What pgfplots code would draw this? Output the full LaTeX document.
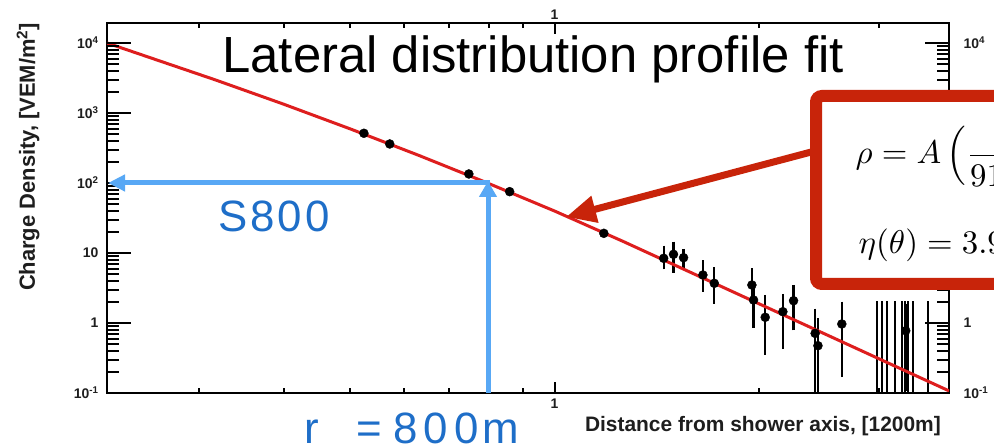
\documentclass[border=0pt]{standalone}
\usepackage{pgfplots}
\pgfplotsset{compat=1.18}
\usepackage[no-math]{fontspec}
\setmainfont{Liberation Sans}
\usetikzlibrary{arrows.meta}
\definecolor{fitred}{RGB}{222,30,30}
\definecolor{boxred}{RGB}{200,36,10}
\definecolor{arrowblue}{RGB}{88,168,245}
\definecolor{textblue}{RGB}{30,110,200}
\definecolor{labgray}{RGB}{30,30,30}
\begin{document}
\begin{tikzpicture}
\useasboundingbox (0,0) rectangle (994bp,446bp);
\clip (0,0) rectangle (994bp,446bp);
\fill[white] (0,0) rectangle (994bp,446bp);
% main axis: frame, data, x ticks
\begin{axis}[xmode=log, ymode=log, xmin=0.2193, xmax=3.81, ymin=0.1, ymax=19300,
  scale only axis, width=842bp, height=370bp, at={(107bp,53bp)}, anchor=south west,
  axis line style={line width=2.2bp, black},
  xtick={1}, xticklabels={1},
  minor xtick={0.3,0.4,0.5,0.6,0.7,0.8,0.9,2,3},
  ytick=\empty,
  tick align=inside, xtick pos=both, xticklabel pos=left,
  major tick length=11bp, minor tick length=5bp,
  tick style={line width=2bp, black},
  ticklabel style={font=\fontsize{14}{16}\selectfont\bfseries, text=labgray},
  xticklabel style={yshift=-2bp},
  xlabel={Distance from shower axis, [1200m]},
  xlabel style={at={(axis description cs:0.779,-0.105)}, anchor=base, font=\fontsize{21}{24}\selectfont\bfseries, text=labgray},
  ylabel={Charge Density, [VEM/m\textsuperscript{2}]},
  ylabel style={at={(axis description cs:-0.0938,0.638)}, anchor=center, font=\fontsize{22}{24}\selectfont\bfseries, text=labgray},
  title={Lateral distribution profile fit},
  title style={at={(axis description cs:0.506,0.851)}, anchor=base, font=\fontsize{51}{60}\selectfont},
]
% points without visible error bars
\addplot[only marks, mark=*, mark size=4.5bp, black] coordinates {
(0.524,513) (0.572,361) (0.748,134.6) (0.859,75.2) (1.182,19.1)};
% points with error bars
\addplot[only marks, mark=*, mark size=4.5bp, black,
  error bars/.cd, y dir=both, y explicit, error mark=-,
  error bar style={line width=2.2bp, draw=black},
  error mark options={mark size=4.5bp, line width=2.2bp, draw=black}]
  table[x=r, y=v, y error plus=ep, y error minus=em] {
r v ep em
1.448 8.40 2.6 1.65
1.497 9.57 3.0 3.5
1.549 8.57 1.3 1.4
1.654 4.85 1.9 1.6
1.719 3.69 1.7 1.5
1.953 3.49 1.74 1.1
1.964 2.13 0.8 1.14
2.043 1.206 0.97 0.80
2.169 1.45 0.80 0.96
2.249 2.08 0.95 1.17
2.420 0.711 0.67 0.68
2.443 0.474 0.54 0.44
2.649 0.968 0.78 0.773
3.29 0.776 0.84 0.653
};
% stations with large error bars only
\addplot[only marks, mark=*, mark size=0.01pt, black,
  error bars/.cd, y dir=both, y explicit, error mark=-,
  error bar style={line width=2.2bp, draw=black},
  error mark options={mark size=4.5bp, line width=2.2bp, draw=black}]
  table[x=r, y=v, y error plus=ep, y error minus=em] {
r v ep em
2.985 1 0.75 0.95
3.036 1 0.75 0.95
3.090 1 0.75 0.95
3.170 1 0.75 0.95
3.251 1 0.75 0.95
3.281 1 0.75 0.95
3.319 1 0.75 0.95
3.373 1 0.75 0.95
3.548 1 0.75 0.95
};
% fit
\addplot[line width=3bp, fitred] coordinates {
(0.2193,10000) (0.2512,6383) (0.3162,2985) (0.3981,1349) (0.5012,588.8) (0.6310,248.3)
(0.7943,101.2) (1,39.81) (1.2589,14.79) (1.5849,5.309) (1.9953,1.905) (2.5119,0.6839)
(3.1623,0.2455) (3.8107,0.1072)};
\end{axis}
% y ticks with left labels
\begin{axis}[xmode=log, ymode=log, xmin=0.2193, xmax=3.81, ymin=0.1, ymax=19300,
  scale only axis, width=842bp, height=370bp, at={(107bp,53bp)}, anchor=south west,
  axis line style={draw=none},
  xtick=\empty,
  ytick={0.1,1,10,100,1000,10000},
  yticklabels={10\textsuperscript{-1},1,10,10\textsuperscript{2},10\textsuperscript{3},10\textsuperscript{4}},
  minor ytick={0.2,0.3,0.4,0.5,0.6,0.7,0.8,0.9,2,3,4,5,6,7,8,9,20,30,40,50,60,70,80,90,200,300,400,500,600,700,800,900,2000,3000,4000,5000,6000,7000,8000,9000},
  ytick pos=both, yticklabel pos=left, tick align=inside,
  major tick length=24bp, minor tick length=12bp,
  tick style={line width=2bp, black},
  ticklabel style={font=\fontsize{14}{16}\selectfont\bfseries, text=labgray},
  yticklabel style={xshift=-5bp},
]
\end{axis}
% labels on right and top (the others are hidden by the box)
\begin{axis}[xmode=log, ymode=log, xmin=0.2193, xmax=3.81, ymin=0.1, ymax=19300,
  scale only axis, width=842bp, height=370bp, at={(107bp,53bp)}, anchor=south west,
  axis line style={draw=none},
  xtick={1}, xticklabels={1},
  ytick={0.1,1,10000},
  yticklabels={10\textsuperscript{-1},1,10\textsuperscript{4}},
  xticklabel pos=right, yticklabel pos=right,
  major tick length=0pt, tick style={draw=none},
  ticklabel style={font=\fontsize{14}{16}\selectfont\bfseries, text=labgray},
  yticklabel style={xshift=11bp},
]
\end{axis}
\begin{scope}[x=1bp, y=-1bp, shift={(0bp,446bp)}]
\draw[arrowblue, line width=5bp, -{Triangle[length=17bp,width=16bp]}] (490,183) -- (108,183);
\draw[arrowblue, line width=5bp, -{Triangle[length=16bp,width=17bp]}] (488,393) -- (488,181);
\node[anchor=base west, text=textblue, font=\fontsize{44}{50}\selectfont, inner sep=0] at (218,232)
  {S\hspace{3bp}8\hspace{3bp}0\hspace{3bp}0};
\node[anchor=base west, text=textblue, font=\fontsize{44}{50}\selectfont, inner sep=0] at (304,444)
  {r\hspace{38bp}=\hspace{11bp}8\hspace{6bp}0\hspace{6bp}0\hspace{4bp}m};
\draw[boxred, line width=7bp, -{Triangle[length=30bp,width=26bp]}] (815,151) -- (566,217);
\draw[boxred, line width=12bp, fill=white, rounded corners=6bp] (816,96) rectangle (1030,284);
\end{scope}
\node[anchor=base west, inner sep=0, scale=3.3] at (855bp,282bp)
  {$\displaystyle \rho = A\left(\frac{r}{91.6\,\mathrm{m}}\right)^{-\beta}$};
\node[anchor=base west, inner sep=0, scale=3.3] at (858bp,192bp)
  {$\eta(\theta) = 3.97 - 1.79\,(\sec\theta - 1)$};
\end{tikzpicture}
\end{document}
